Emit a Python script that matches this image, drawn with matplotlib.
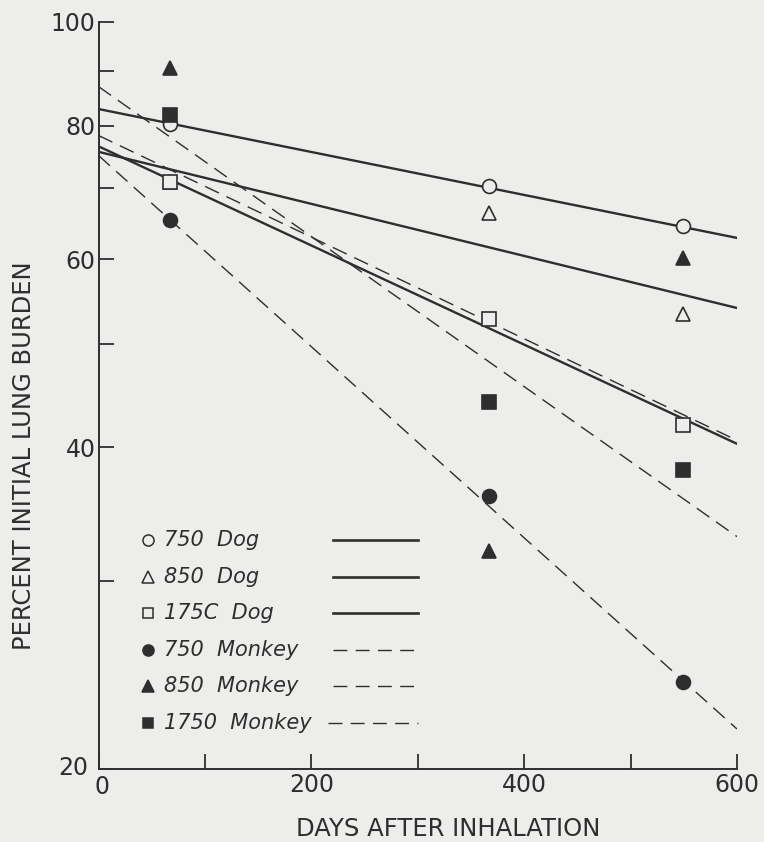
import matplotlib.pyplot as plt
from matplotlib.ticker import FixedLocator, NullFormatter
from matplotlib.transforms import ScaledTranslation

# data
days = [67, 367, 549]
dog_750 = [80.3, 70.3, 64.5]
dog_850 = [70.8, 66.2, 53.3]
dog_1750 = [70.8, 52.7, 42.0]
monkey_750 = [65.2, 36.0, 24.1]
monkey_850 = [90.5, 32.0, 60.2]
monkey_1750 = [81.8, 44.1, 38.1]

# fitted lines (value at day 0 and day 600)
fit_days = [0, 600]
fit_dog_750 = [82.9, 62.8]
fit_dog_850 = [75.6, 54.0]
fit_dog_1750 = [76.5, 40.3]
fit_monkey_750 = [75.0, 21.8]
fit_monkey_850 = [78.3, 40.6]
fit_monkey_1750 = [87.0, 33.0]

labels = ["750  Dog", "850  Dog", "175C  Dog", "750  Monkey", "850  Monkey", "1750  Monkey"]

bg = "#ededeb"
ink = "#2e2e2e"

fig = plt.figure(figsize=(7.64, 8.42), dpi=100, facecolor=bg)
ax = fig.add_axes([0.129, 0.0867, 0.8356, 0.8872], facecolor=bg)
ax.set_yscale("log")

series = [
    (dog_750, fit_dog_750, "o", False),
    (dog_850, fit_dog_850, "^", False),
    (dog_1750, fit_dog_1750, "s", False),
    (monkey_750, fit_monkey_750, "o", True),
    (monkey_850, fit_monkey_850, "^", True),
    (monkey_1750, fit_monkey_1750, "s", True),
]

for i, (vals, fit, mk, monkey) in enumerate(series):
    if monkey:
        ln, = ax.plot(fit_days, fit, color=ink, lw=1.0, zorder=2)
        ln.set_dashes((11, 6))
    else:
        ax.plot(fit_days, fit, color=ink, lw=1.7, zorder=2)
    ms = {"o": 10, "^": 10, "s": 9.5}[mk]
    ax.plot(days, vals, mk, ms=ms, mec=ink, mew=1.2,
            mfc=ink if monkey else bg, zorder=3 + i, clip_on=False)

    # legend row
    ly = 0.306 - i * 0.0488
    ax.plot([0.077], [ly], mk, ms=8 if mk != "s" else 7.5, mec=ink, mew=1.1,
            mfc=ink if monkey else bg, transform=ax.transAxes)
    ax.text(0.103, ly, labels[i], transform=ax.transAxes, fontsize=15,
            style="italic", color=ink, va="center", ha="left")
    x0 = 0.367 if i != 5 else 0.36
    if monkey:
        s, = ax.plot([x0, 0.50], [ly, ly], color=ink, lw=1.0, transform=ax.transAxes)
        s.set_dashes((10, 6))
    else:
        ax.plot([x0, 0.50], [ly, ly], color=ink, lw=1.9, transform=ax.transAxes)

ax.set_xlim(0, 600)
ax.set_ylim(20, 100)
ax.xaxis.set_major_locator(FixedLocator([0, 200, 400, 600]))
ax.xaxis.set_minor_locator(FixedLocator([100, 300, 500]))
ax.yaxis.set_major_locator(FixedLocator([20, 40, 60, 80, 100]))
ax.yaxis.set_minor_locator(FixedLocator([30, 50, 70, 90]))
ax.yaxis.set_major_formatter(plt.FuncFormatter(lambda v, p: f"{v:g}"))
ax.yaxis.set_minor_formatter(NullFormatter())

ax.tick_params(which="both", direction="in", length=11, width=1.3, colors=ink,
               labelsize=17, pad=3)
ax.tick_params(axis="y", which="both", pad=2)

# the "20" and "0" at the corner sit apart, like in the original
ax.yaxis.get_major_ticks()[0].label1.set_transform(
    ax.yaxis.get_major_ticks()[0].label1.get_transform()
    + ScaledTranslation(-8 / 100, 3 / 100, fig.dpi_scale_trans))
ax.xaxis.get_major_ticks()[0].label1.set_transform(
    ax.xaxis.get_major_ticks()[0].label1.get_transform()
    + ScaledTranslation(3 / 100, -2 / 100, fig.dpi_scale_trans))

for side in ["top", "right"]:
    ax.spines[side].set_visible(False)
for side in ["left", "bottom"]:
    ax.spines[side].set_linewidth(1.4)
    ax.spines[side].set_color(ink)

ax.set_xlabel("DAYS AFTER INHALATION", fontsize=17.5, color=ink)
ax.set_ylabel("PERCENT INITIAL LUNG BURDEN", fontsize=17.5, color=ink)
ax.xaxis.set_label_coords(0.547, -0.080)
ax.yaxis.set_label_coords(-0.117, 0.42)
ax.xaxis.label.set_va("center")
ax.yaxis.label.set_va("center")

fig.savefig("out.png", dpi=100, facecolor=bg)
